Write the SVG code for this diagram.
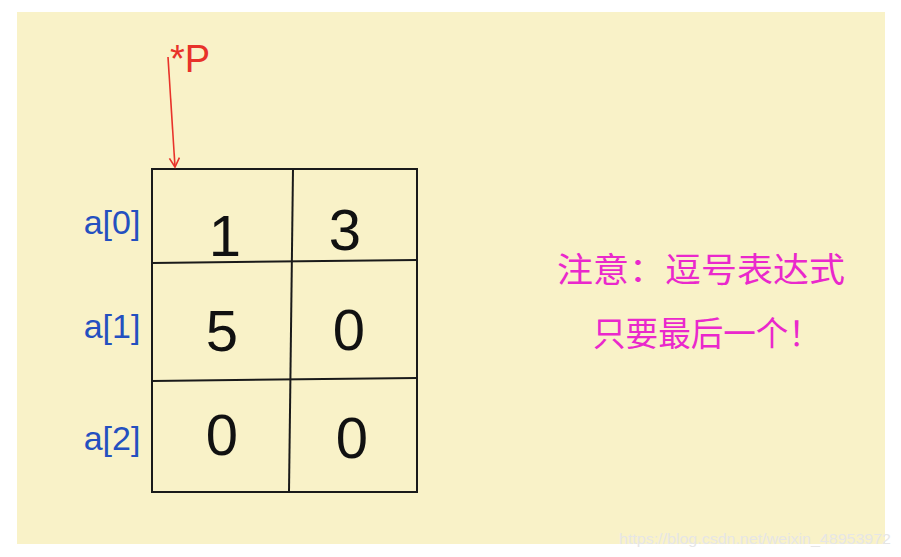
<svg xmlns="http://www.w3.org/2000/svg" width="901" height="557" viewBox="0 0 901 557">
<defs>
<style>
.grid{fill:none;stroke:#1a1a1a;stroke-width:2}
.num{font-family:"Liberation Sans",Arial,sans-serif;font-size:58px;font-weight:normal;fill:#111;text-anchor:middle}
.lbl{font-family:"Liberation Sans",Arial,sans-serif;font-size:34px;fill:#2450c0;text-anchor:middle}
.note{font-family:"Noto Sans CJK SC","Noto Sans",sans-serif;font-size:34px;fill:#ea28cc;text-anchor:middle}
</style>
<marker id="ah" viewBox="0 0 12 12" refX="10" refY="6" markerWidth="12" markerHeight="12" markerUnits="userSpaceOnUse" orient="auto">
<path d="M1,1 L10,6 L1,11" fill="none" stroke="#e8322a" stroke-width="1.6"/>
</marker>
</defs>
<rect width="901" height="557" fill="#ffffff"/>
<rect x="17" y="12" width="868" height="532" fill="#f9f2c8"/>
<g id="grid">
<path class="grid" d="M152,169 L417,169 L417,492 L152,492 Z"/>
<path class="grid" d="M293,169 L289,492"/>
<path class="grid" d="M152,263 L417,260"/>
<path class="grid" d="M152,381 L417,378"/>
</g>
<g id="cells">
<text class="num" x="225" y="256">1</text>
<text class="num" x="345" y="250">3</text>
<text class="num" x="222" y="351">5</text>
<text class="num" x="349" y="350">0</text>
<text class="num" x="222" y="455">0</text>
<text class="num" x="352" y="458">0</text>
</g>
<g id="labels">
<text class="lbl" x="112" y="234">a[0]</text>
<text class="lbl" x="112" y="338">a[1]</text>
<text class="lbl" x="112" y="450">a[2]</text>
</g>
<g id="pointer">
<text x="190" y="72" font-family="Liberation Sans,Arial,sans-serif" font-size="38" fill="#e8322a" text-anchor="middle">*P</text>
</g>
<g id="connectors">
<path d="M168,57 L175,167" stroke="#e8322a" stroke-width="1.6" fill="none" marker-end="url(#ah)"/>
</g>
<g id="note">
<text class="note" x="701" y="282" textLength="288" lengthAdjust="spacingAndGlyphs">注意：逗号表达式</text>
<text class="note" x="707" y="346" textLength="228" lengthAdjust="spacingAndGlyphs">只要最后一个！</text>
</g>
<text x="755" y="544" font-family="Liberation Sans,Arial,sans-serif" font-size="15" fill="#e6e6e6" text-anchor="middle" textLength="272" lengthAdjust="spacingAndGlyphs">https://blog.csdn.net/weixin_48953972</text>
</svg>
